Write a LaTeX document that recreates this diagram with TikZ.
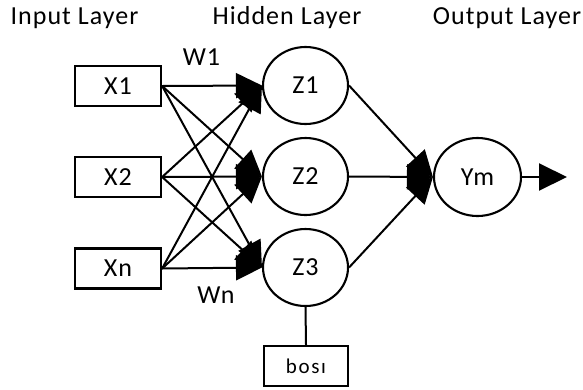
\documentclass[tikz,border=0pt]{standalone}
\usepackage{fontspec}
\setmainfont{Carlito}
\newfontfamily\lab{Carlito}[LetterSpace=4]
\newfontfamily\smalllab{Carlito}[LetterSpace=8]
\usetikzlibrary{arrows.meta,shapes.geometric}
\begin{document}
\begin{tikzpicture}[x=1pt,y=-1pt,
  txt/.style={font=\lab\fontsize{26}{28}\selectfont, text=black, inner sep=0pt},
  inbox/.style={draw, line width=2.3pt, minimum width=86pt, minimum height=40pt, inner sep=0pt, font=\lab\fontsize{26}{28}\selectfont, text=black},
  neuron/.style={draw, ellipse, line width=2.1pt, minimum width=85pt, minimum height=77pt, inner sep=0pt, font=\lab\fontsize{26}{28}\selectfont, text=black},
  conn/.style={line width=2pt, -{Triangle[length=26pt,width=25pt]}},
  plain/.style={line width=2pt}]
\useasboundingbox (0,0) rectangle (583,389);
% titles
\node[txt, anchor=base] (t1) at (74.5,24) {Input Layer};
\node[txt, anchor=base] (t2) at (287,24) {Hidden Layer};
\node[txt, anchor=base] (t3) at (507,24) {Output Layer};
% input boxes
\node[inbox] (x1) at (118,86) {X1};
\node[inbox] (x2) at (118,177) {X2};
\node[inbox] (xn) at (118,268.5) {Xn};
% hidden neurons
\node[neuron] (z1) at (305.5,85.5) {Z1};
\node[neuron] (z2) at (305.5,176.5) {Z2};
\node[neuron] (z3) at (305.5,267.5) {Z3};
% output neuron
\node[neuron, minimum width=87pt, minimum height=78pt] (ym) at (477.5,177) {Ym};
\coordinate (out) at (567,177);
% bias
\node[inbox, minimum width=84pt, minimum height=40pt, font=\smalllab\fontsize{21}{24}\selectfont] (b) at (306,366) {bosı};
% weight labels
\node[txt, anchor=base] (w1) at (201.5,65) {W1};
\node[txt, anchor=base] (wn) at (216,303) {Wn};
% connections
\foreach \s in {x1,x2,xn}{
  \foreach \t in {z1,z2,z3}{
    \draw[conn] (\s.east) -- (\t.west);
  }
}
\foreach \s in {z1,z2,z3}{
  \draw[conn] (\s.east) -- (ym.west);
}
\draw[line width=2pt, -{Triangle[length=28pt,width=27pt]}] (ym.east) -- (out);
\draw[plain] (z3.south) -- (b.north);
\end{tikzpicture}
\end{document}
